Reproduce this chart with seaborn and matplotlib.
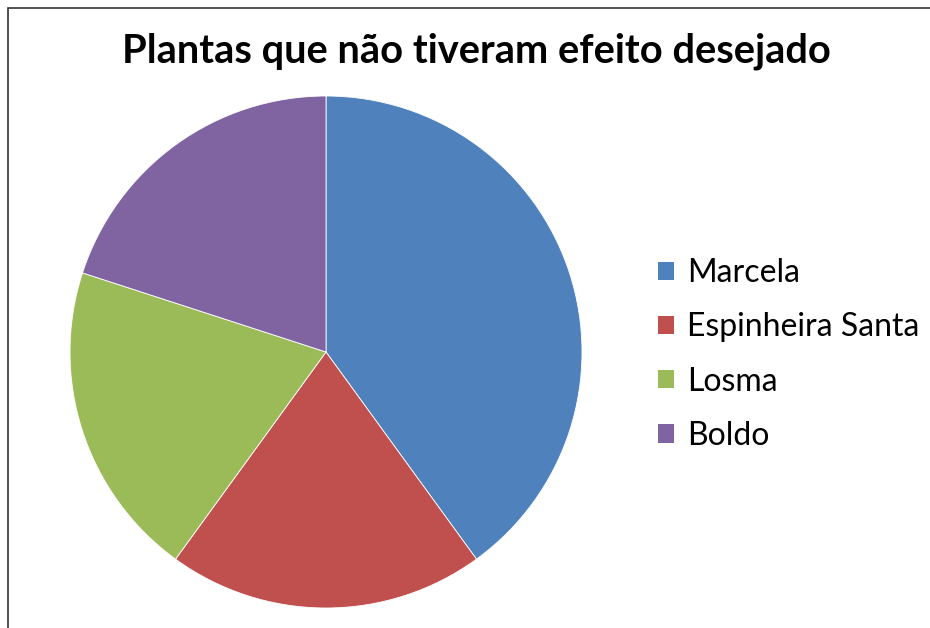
import matplotlib
matplotlib.use("Agg")
import matplotlib.pyplot as plt
import seaborn as sns
from matplotlib.patches import Patch, Rectangle

categories = ["Marcela", "Espinheira Santa", "Losma", "Boldo"]
values = [40, 20, 20, 20]
colors = ["#4F81BD", "#C0504D", "#9BBB59", "#8064A2"]
title = "Plantas que não tiveram efeito desejado"

sns.set_theme(style="white")
plt.rcParams["font.family"] = ["Lato", "DejaVu Sans"]

W, H = 930, 628
fig = plt.figure(figsize=(W / 100, H / 100), dpi=100)
fig.patch.set_facecolor("white")

# outer frame
fig.add_artist(Rectangle((8 / W, -0.1), 1.2, (H - 8) / H + 0.1, transform=fig.transFigure,
                         fill=False, edgecolor="#333333", linewidth=1.2))

cx, cy, r = 326, 352, 256
ax = fig.add_axes([(cx - r) / W, (H - cy - r) / H, 2 * r / W, 2 * r / H])
palette = sns.color_palette(colors)
ax.pie(values, colors=palette, startangle=90, counterclock=False, radius=1,
       wedgeprops=dict(linewidth=0.6, edgecolor="white"))
ax.set_xlim(-1, 1)
ax.set_ylim(-1, 1)
ax.set_aspect("equal")
ax.axis("off")

fig.text(476 / W, 1 - 51 / H, title, ha="center", va="center",
         fontsize=28.7, fontweight="bold", color="black")

handles = [Patch(facecolor=c, edgecolor="none") for c in palette]
leg = fig.legend(handles, categories, loc="upper left",
                 bbox_to_anchor=(642 / W, 1 - 242 / H), frameon=False,
                 fontsize=23, handlelength=0.5, handleheight=0.5,
                 handletextpad=0.4, labelspacing=0.76, borderpad=0,
                 labelcolor="black")

fig.savefig("out.png", dpi=100, facecolor="white")
